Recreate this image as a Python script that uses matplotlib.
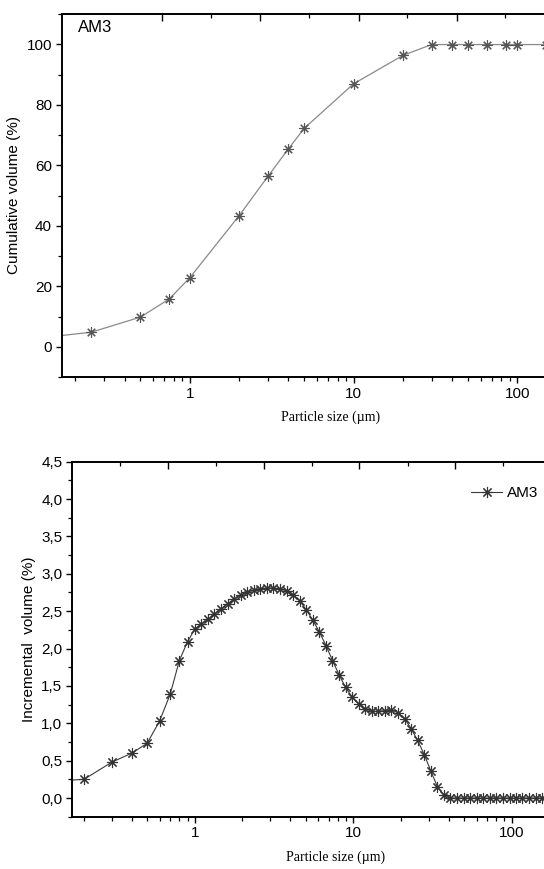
import numpy as np
import matplotlib.pyplot as plt
from matplotlib.ticker import LogLocator, MultipleLocator, FuncFormatter, NullFormatter

# cumulative curve (top)
cum_size = [0.1, 0.25, 0.5, 0.75, 1, 2, 3, 4, 5, 10, 20, 30, 40, 50, 65, 85, 100, 150]
cum_vol = [2.4, 4.8, 9.8, 15.8, 22.8, 43.3, 56.3, 65.4, 72.2, 86.9, 96.3, 99.9, 99.9, 99.9, 99.9, 99.9, 99.9, 99.9]

# incremental curve (bottom)
inc_size = [0.1, 0.2, 0.3, 0.4, 0.5, 0.6, 0.7, 0.8, 0.9,
            1.0, 1.1, 1.21, 1.33, 1.46, 1.61, 1.77, 1.95, 2.14, 2.36,
            2.59, 2.85, 3.14, 3.45, 3.8, 4.18, 4.59, 5.05, 5.56, 6.12,
            6.73, 7.4, 8.14, 8.95, 9.85, 10.8, 11.9, 13.1, 14.4, 15.9,
            17.4, 19.2, 21.1, 23.2, 25.5, 28.1, 30.9, 34.0, 37.4, 41.1,
            45.3, 49.8, 54.8, 60.2, 66.3, 72.9, 80.2, 88.2, 97.0, 107,
            117, 129, 142, 156, 172, 189, 208, 229]
inc_vol = [0.21, 0.25, 0.48, 0.6, 0.73, 1.03, 1.39, 1.84, 2.09,
           2.26, 2.33, 2.39, 2.46, 2.53, 2.60, 2.66, 2.71, 2.75, 2.78,
           2.80, 2.81, 2.81, 2.80, 2.77, 2.72, 2.64, 2.52, 2.38, 2.22,
           2.04, 1.84, 1.65, 1.48, 1.35, 1.26, 1.19, 1.16, 1.16, 1.17,
           1.18, 1.14, 1.06, 0.93, 0.77, 0.58, 0.36, 0.15, 0.04, 0.0,
           0.0, 0.0, 0.0, 0.0, 0.0, 0.0, 0.0, 0.0, 0.0, 0.0,
           0.0, 0.0, 0.0, 0.0, 0.0, 0.0, 0.0, 0.0]

sample = "AM3"

W, H = 544, 869
fig = plt.figure(figsize=(W / 100, H / 100), dpi=100)

SANS = "Liberation Sans"
SERIF = "Liberation Serif"
star = (8, 2, 0)


def px_box(left, top, right, bottom):
    return [left / W, 1 - bottom / H, (right - left) / W, (bottom - top) / H]


def style_axes(ax, left_px, right_px, top_major, top_minor):
    for side in ["left", "bottom", "top"]:
        ax.spines[side].set_linewidth(1.4)
    ax.spines["right"].set_visible(False)
    ax.set_xscale("log")
    ax.xaxis.set_major_locator(LogLocator(base=10))
    ax.xaxis.set_minor_locator(LogLocator(base=10, subs=np.arange(2, 10)))
    ax.xaxis.set_major_formatter(FuncFormatter(lambda v, p: f"{v:g}"))
    ax.xaxis.set_minor_formatter(NullFormatter())
    ax.tick_params(axis="both", which="major", direction="out", length=4.5, width=1.0,
                   labelsize=11, pad=2.5, top=False, right=False)
    ax.tick_params(axis="both", which="minor", direction="out", length=3, width=0.9,
                   top=False, right=False)
    for lab in ax.get_xticklabels() + ax.get_yticklabels():
        lab.set_fontfamily(SANS)
    ax.set_xlabel("Particle size (\u00b5m)", fontfamily=SERIF, fontsize=10, labelpad=7)

    # top axis ticks (inward, no labels)
    top = ax.twiny()
    top.set_xlim(0, right_px - left_px)
    top.set_xticks(top_major)
    top.set_xticks(top_minor, minor=True)
    top.tick_params(axis="x", which="major", direction="in", length=5, width=1.0, labeltop=False)
    top.tick_params(axis="x", which="minor", direction="in", length=3, width=0.9)
    for side in ["left", "bottom", "right", "top"]:
        top.spines[side].set_visible(False)
    return top


# ---------- top chart ----------
ax1 = fig.add_axes(px_box(61.6, 14, 600, 377))
ax1.plot(cum_size, cum_vol, color="#8a8a8a", lw=0.9, marker=star, ms=7.5,
         mec="#555555", mew=0.8)
ax1.set_xlim(0.165, 320)
ax1.set_ylim(-10, 110)
ax1.yaxis.set_major_locator(MultipleLocator(20))
ax1.yaxis.set_minor_locator(MultipleLocator(10))
ax1.set_yticks([0, 20, 40, 60, 80, 100])
style_axes(ax1, 61.6, 600, [100.5, 198.8, 297.2, 395.2], [149.1, 247.5, 345.9, 443.9])
ax1.set_ylabel("Cumulative volume (%)", fontfamily=SANS, fontsize=11, labelpad=4)
ax1.annotate(sample, xy=(0, 1), xycoords="axes fraction", xytext=(16, -13),
             textcoords="offset pixels", fontfamily=SANS, fontsize=12, va="center")

# ---------- bottom chart ----------
ax2 = fig.add_axes(px_box(72, 461.7, 600, 816.7))
ax2.plot(inc_size, inc_vol, color="#3a3a3a", lw=0.8, marker=star, ms=8,
         mec="#333333", mew=0.8, label=sample)
ax2.set_xlim(0.168, 361)
ax2.set_ylim(-0.25, 4.5)
ax2.yaxis.set_major_locator(MultipleLocator(0.5))
ax2.yaxis.set_minor_locator(MultipleLocator(0.25))
ax2.yaxis.set_major_formatter(FuncFormatter(lambda v, p: f"{v:.1f}".replace(".", ",")))
style_axes(ax2, 72, 600, [96, 191.5, 287, 382.5], [48.4, 144, 239.9, 335.5, 431])
ax2.set_ylabel("Incremental  volume (%)", fontfamily=SANS, fontsize=11, labelpad=4)
leg = ax2.legend(loc="upper right", bbox_to_anchor=(544 / W, 1 - 480 / H),
                 bbox_transform=fig.transFigure, frameon=False, handlelength=2.0,
                 handletextpad=0.3, borderaxespad=0,
                 prop={"family": SANS, "size": 11})

fig.savefig("out.png", dpi=100)
